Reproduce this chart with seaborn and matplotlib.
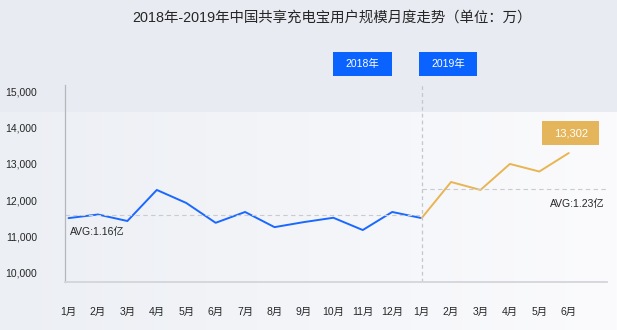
import numpy as np
import pandas as pd
import matplotlib
matplotlib.use("Agg")
import matplotlib.pyplot as plt
import seaborn as sns
from matplotlib.colors import to_rgb
from matplotlib.patches import Rectangle

# ---- data -------------------------------------------------------------
title = "2018年-2019年中国共享充电宝用户规模月度走势（单位：万）"
months_2018 = ["1月", "2月", "3月", "4月", "5月", "6月",
               "7月", "8月", "9月", "10月", "11月", "12月"]
months_2019 = ["1月", "2月", "3月", "4月", "5月", "6月"]
users_2018 = [11500, 11600, 11420, 12280, 11920, 11370,
              11670, 11250, 11390, 11510, 11170, 11670]
users_2019 = [11500, 12500, 12280, 13000, 12790, 13302]
avg_2018_yi = 1.16   # 亿
avg_2019_yi = 1.23   # 亿
y_ticks = [10000, 11000, 12000, 13000, 14000, 15000]
year_labels = ["2018年", "2019年"]

# ---- style ------------------------------------------------------------
sns.set_theme(style="white")
plt.rcParams["font.family"] = ["Liberation Sans", "Noto Sans CJK SC", "DejaVu Sans"]
plt.rcParams["axes.unicode_minus"] = False

BLUE = "#1a68ff"
GOLD = "#e8b553"
TEXT = "#262626"

W, H = 617, 330
fig = plt.figure(figsize=(W / 100, H / 100), dpi=100)

# background: plain band on top, soft horizontal gradient below
bg = fig.add_axes([0, 0, 1, 1], zorder=-10)
bg.set_axis_off()
top_c = np.array(to_rgb("#e8ebf2"))
left_c = np.array(to_rgb("#eceff4"))
right_c = np.array(to_rgb("#fbfbfd"))
img = np.zeros((H, W, 3))
t = np.linspace(0, 1, W)[None, :, None]
img[:, :, :] = left_c * (1 - t) + right_c * t
img[:112, :, :] = top_c
bg.imshow(img, aspect="auto", extent=[0, 1, 0, 1], origin="upper")
bg.set_xlim(0, 1)
bg.set_ylim(0, 1)

# main axes, placed in pixel terms
ax_l, ax_r, ax_t, ax_b = 65, 607, 85, 282
ax = fig.add_axes([ax_l / W, 1 - ax_b / H, (ax_r - ax_l) / W, (ax_b - ax_t) / H])
ax.set_facecolor("none")

n18, n19 = len(months_2018), len(months_2019)
x18 = list(range(n18)) + [n18]          # 2018 line runs on into Jan 2019
y18 = users_2018 + [users_2019[0]]
x19 = list(range(n18, n18 + n19))

df18 = pd.DataFrame({"x": x18, "users": y18})
df19 = pd.DataFrame({"x": x19, "users": users_2019})
sns.lineplot(data=df18, x="x", y="users", color=BLUE, lw=1.4, ax=ax)
sns.lineplot(data=df19, x="x", y="users", color=GOLD, lw=1.4, ax=ax)

x_left, x_right = -0.12, 18.3
ax.set_xlim(x_left, x_right)
ax.set_ylim(9731, 15186)

# average lines
avg18 = avg_2018_yi * 1e4
avg19 = avg_2019_yi * 1e4
ax.hlines(avg18, x_left, n18, colors="#c9cbd0", linestyles=(0, (4, 3)), lw=0.8)
ax.hlines(avg19, n18, x_right, colors="#c9cbd0", linestyles=(0, (4, 3)), lw=0.8)
ax.annotate(f"AVG:{avg_2018_yi:.2f}亿", (x_left, avg18), xytext=(5, -17),
            textcoords="offset pixels", ha="left", va="center",
            fontsize=7.5, color=TEXT)
ax.annotate(f"AVG:{avg_2019_yi:.2f}亿", (x_right, avg19), xytext=(-2, -15),
            textcoords="offset pixels", ha="right", va="center",
            fontsize=7.5, color=TEXT)

# year divider
ax.axvline(n18, color="#c4c6cc", lw=0.9, ls=(0, (3, 2.5)))

# axes cosmetics
ax.set_yticks(y_ticks)
ax.set_yticklabels([f"{v:,}" for v in y_ticks])
ax.set_xticks(range(n18 + n19))
ax.set_xticklabels(months_2018 + months_2019)
ax.tick_params(axis="y", length=0, pad=20, labelsize=7.5, labelcolor=TEXT)
ax.tick_params(axis="x", length=0, pad=18, labelsize=7.5, labelcolor=TEXT)
ax.set_xlabel("")
ax.set_ylabel("")
for s in ["top", "right"]:
    ax.spines[s].set_visible(False)
ax.spines["left"].set_color("#b5b7bc")
ax.spines["left"].set_linewidth(0.9)
ax.spines["bottom"].set_color("#d3d5da")
ax.spines["bottom"].set_linewidth(1.3)

# title
fig.text(332 / W, 1 - 18 / H, title, ha="center", va="center",
         fontsize=10.4, color=TEXT)


def px_box(x0, y0, x1, y1, color, text, size):
    """Filled box given in pixel coordinates (origin top-left)."""
    fig.patches.append(Rectangle((x0 / W, 1 - y1 / H), (x1 - x0) / W, (y1 - y0) / H,
                                 transform=fig.transFigure, facecolor=color,
                                 edgecolor="none", zorder=5))
    fig.text((x0 + x1) / 2 / W, 1 - (y0 + y1) / 2 / H, text, ha="center",
             va="center", color="white", fontsize=size, zorder=6)


px_box(333, 52, 392, 76, "#0a63ff", year_labels[0], 7.5)
px_box(419, 52, 477, 76, "#0a63ff", year_labels[1], 7.5)

# latest value badge, anchored to the last point
fig.canvas.draw()
last_x, last_y = x19[-1], users_2019[-1]
px, py = ax.transData.transform((last_x, last_y))
py_top = H - py
bw, bh = 57, 24
cx = px + 2
px_box(cx - bw / 2, py_top - 8 - bh, cx + bw / 2, py_top - 8, "#e4b55a",
       f"{last_y:,}", 8)

fig.savefig("out.png", dpi=100)
